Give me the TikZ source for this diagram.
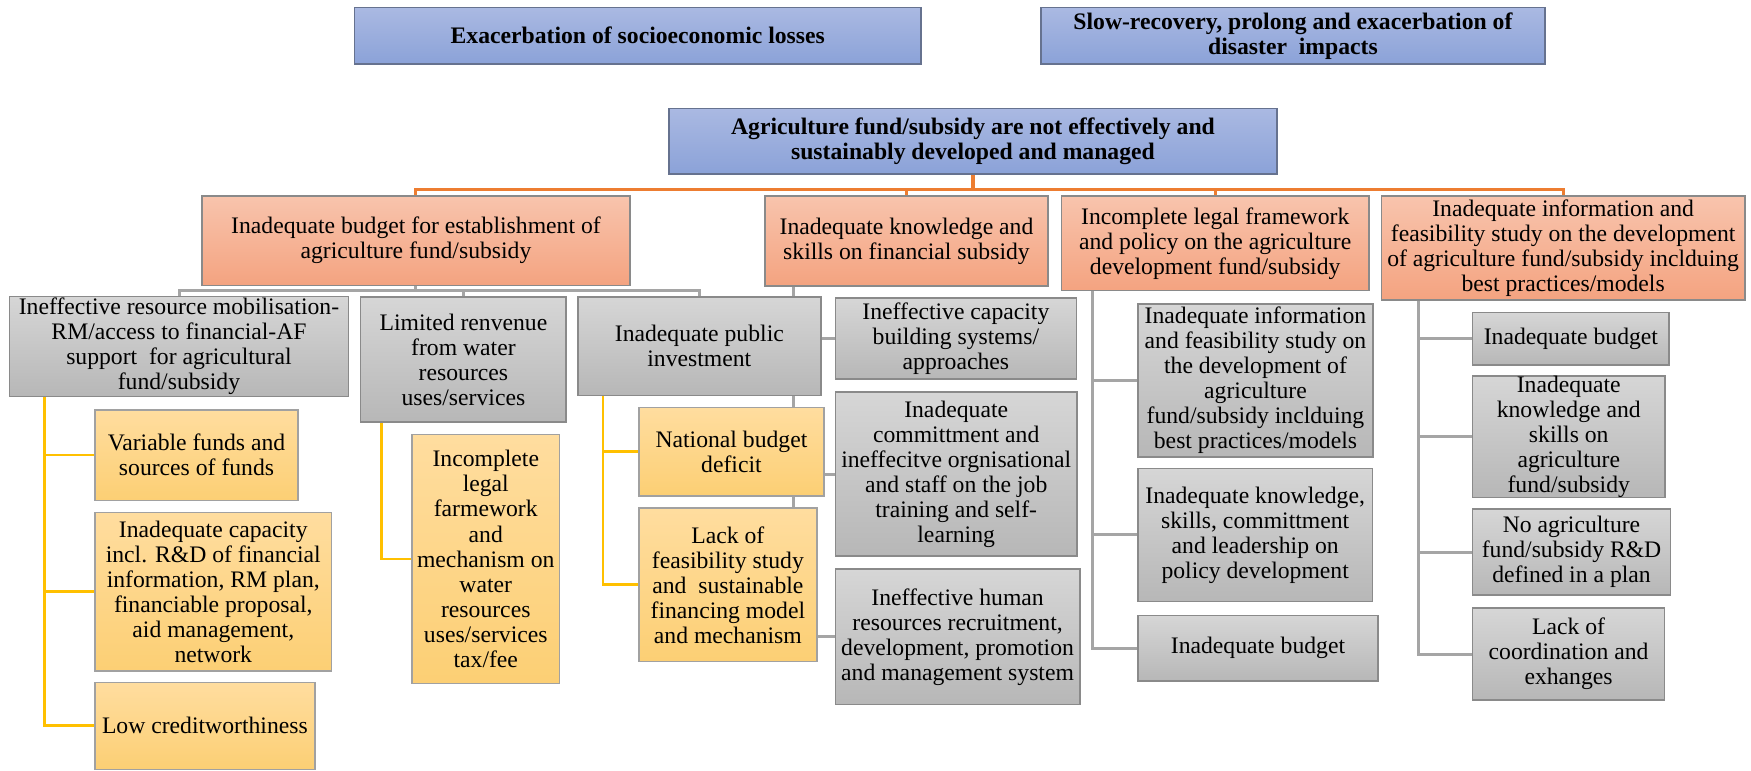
\documentclass[tikz,border=0pt]{standalone}
\usepackage{fontspec}
\setmainfont{Liberation Serif}
\usetikzlibrary{backgrounds}

\definecolor{blueTop}{HTML}{AAB9E2}
\definecolor{blueBot}{HTML}{8BA2D8}
\definecolor{blueLine}{HTML}{66728F}
\definecolor{orTop}{HTML}{F8C4AD}
\definecolor{orBot}{HTML}{F4A380}
\definecolor{grTop}{HTML}{D6D6D6}
\definecolor{grBot}{HTML}{B7B7B7}
\definecolor{yeTop}{HTML}{FFDD9F}
\definecolor{yeBot}{HTML}{FCCF74}
\definecolor{boxLine}{HTML}{8A8A8A}
\definecolor{orLink}{HTML}{ED7D31}
\definecolor{grLink}{HTML}{A5A5A5}
\definecolor{yeLink}{HTML}{FFC000}

\tikzset{
  x=1pt, y=-1pt,
  basebox/.style={rectangle, inner sep=0pt, align=center, line width=1.4pt,
    font=\fontsize{21.2}{22.4}\selectfont},
  bluebox/.style={basebox, draw=blueLine, top color=blueTop, bottom color=blueBot,
    font=\fontsize{21.2}{22.4}\selectfont\bfseries},
  orangebox/.style={basebox, draw=boxLine, top color=orTop, bottom color=orBot},
  greybox/.style={basebox, draw=boxLine, top color=grTop, bottom color=grBot},
  yellowbox/.style={basebox, draw=boxLine!80, top color=yeTop, bottom color=yeBot},
  orlink/.style={draw=orLink, line width=2.7pt},
  grlink/.style={draw=grLink, line width=2.7pt},
  yelink/.style={draw=yeLink, line width=2.5pt},
}

\begin{document}
\begin{tikzpicture}
\useasboundingbox (0,0) rectangle (1568,690);

% consequences
\node[bluebox, minimum width=507, minimum height=50.7] (t1) at (571.1,32)
  {Exacerbation of socioeconomic losses};
\node[bluebox, minimum width=451.6, minimum height=50.7] (t2) at (1157.8,32)
  {Slow-recovery, prolong and exacerbation of\\disaster\ \ impacts};

% core problem
\node[bluebox, minimum width=544.6, minimum height=58.8] (core) at (871.3,126.4)
  {Agriculture fund/subsidy are not effectively and\\sustainably developed and managed};

% main causes
\node[orangebox, minimum width=383, minimum height=80] (ca) at (372.5,215.5)
  {Inadequate budget for establishment of\\agriculture fund/subsidy};
\node[orangebox, minimum width=253.5, minimum height=80.5] (cb) at (811.75,215.75)
  {Inadequate knowledge and\\skills on financial subsidy};
\node[orangebox, minimum width=275.6, minimum height=84.8] (cc) at (1088.2,217.9)
  {Incomplete legal framework\\and policy on the agriculture\\development fund/subsidy};
\node[orangebox, minimum width=325.5, minimum height=93.3] (cd) at (1399.75,222.15)
  {Inadequate information and\\feasibility study on the development\\of agriculture fund/subsidy inclduing\\best practices/models};

% sub-causes of the budget problem
\node[greybox, minimum width=303.4, minimum height=89.3] (a1) at (160.3,310.35)
  {Ineffective resource mobilisation-\\RM/access to financial-AF\\support\ \ for agricultural\\fund/subsidy};
\node[greybox, minimum width=184, minimum height=112] (a2) at (415,322)
  {Limited renvenue\\from water\\resources\\uses/services};
\node[greybox, minimum width=217.5, minimum height=88] (a3) at (626.25,310)
  {Inadequate public\\investment};

\node[yellowbox, minimum width=182, minimum height=81] (a1a) at (176,407.5)
  {Variable funds and\\sources of funds};
\node[yellowbox, minimum width=212, minimum height=142] (a1b) at (191,530)
  {Inadequate capacity\\incl. R\&D of financial\\information, RM plan,\\financiable proposal,\\aid management,\\network};
\node[yellowbox, minimum width=197, minimum height=78] (a1c) at (183.5,650)
  {Low creditworthiness};
\node[yellowbox, minimum width=132, minimum height=223] (a2a) at (435,500.5)
  {Incomplete\\legal\\farmework\\and\\mechanism on\\water\\resources\\uses/services\\tax/fee};
\node[yellowbox, minimum width=166, minimum height=79] (a3a) at (655,404.5)
  {National budget\\deficit};
\node[yellowbox, minimum width=159.6, minimum height=137.5] (a3b) at (651.8,523.75)
  {Lack of\\feasibility study\\and\ \ sustainable\\financing model\\and mechanism};

% sub-causes of the knowledge problem
\node[greybox, minimum width=216, minimum height=72.5] (b1) at (856,303.25)
  {Ineffective capacity\\building systems/\\approaches};
\node[greybox, minimum width=216.5, minimum height=147] (b2) at (856.25,424.5)
  {Inadequate\\committment and\\ineffecitve orgnisational\\and staff on the job\\training and self-\\learning};
\node[greybox, minimum width=219, minimum height=121.3] (b3) at (857.5,570.35)
  {Ineffective human\\resources recruitment,\\development, promotion\\and management system};

% sub-causes of the legal problem
\node[greybox, minimum width=210.5, minimum height=137] (c1) at (1124.25,340.5)
  {Inadequate information\\and feasibility study on\\the development of\\agriculture\\fund/subsidy inclduing\\best practices/models};
\node[greybox, minimum width=210, minimum height=119.2] (c2) at (1124,479)
  {Inadequate knowledge,\\skills, committment\\and leadership on\\policy development};
\node[greybox, minimum width=215, minimum height=59] (c3) at (1126.5,580.5)
  {Inadequate budget};

% sub-causes of the information problem
\node[greybox, minimum width=176.2, minimum height=47.2] (d1) at (1406.7,303.4)
  {Inadequate budget};
\node[greybox, minimum width=172.4, minimum height=105.2] (d2) at (1404.8,390.9)
  {Inadequate\\knowledge and\\skills on\\agriculture\\fund/subsidy};
\node[greybox, minimum width=177.4, minimum height=76.7] (d3) at (1407.3,494.35)
  {No agriculture\\fund/subsidy R\&D\\defined in a plan};
\node[greybox, minimum width=172, minimum height=82.3] (d4) at (1404.6,585.65)
  {Lack of\\coordination and\\exhanges};

% bus and rail positions
\coordinate (obus) at (0,169.5);
\coordinate (gbus) at (0,260.3);
\coordinate (ya1) at (40,0);
\coordinate (ya2) at (341.7,0);
\coordinate (ya3) at (540,0);
\coordinate (gb) at (711,0);
\coordinate (gc) at (978,0);
\coordinate (gd) at (1270.6,0);

\begin{scope}[on background layer]
  % core problem to main causes
  \draw[orlink] (core.south) -- (core.south |- obus);
  \draw[orlink] (ca.north) -- (ca.north |- obus) -| (cd.north);
  \draw[orlink] (cb.north) -- (cb.north |- obus);
  \draw[orlink] (cc.north) -- (cc.north |- obus);

  % budget problem tree
  \draw[grlink] (ca.south) -- (ca.south |- gbus);
  \draw[grlink] (a1.north) -- (a1.north |- gbus) -| (a3.north);
  \draw[grlink] (a2.north) -- (a2.north |- gbus);

  \draw[yelink] (a1.south -| ya1) |- (a1c.west);
  \draw[yelink] (ya1 |- a1a.west) -- (a1a.west);
  \draw[yelink] (ya1 |- a1b.west) -- (a1b.west);
  \draw[yelink] (a2.south -| ya2) |- (a2a.west);
  \draw[yelink] (a3.south -| ya3) |- (a3b.west);
  \draw[yelink] (ya3 |- a3a.west) -- (a3a.west);

  % knowledge problem tree
  \draw[grlink] (cb.south -| gb) |- (b3.west);
  \draw[grlink] (gb |- b1.west) -- (b1.west);
  \draw[grlink] (gb |- b2.west) -- (b2.west);

  % legal problem tree
  \draw[grlink] (cc.south -| gc) |- (c3.west);
  \draw[grlink] (gc |- c1.west) -- (c1.west);
  \draw[grlink] (gc |- c2.west) -- (c2.west);

  % information problem tree
  \draw[grlink] (cd.south -| gd) |- (d4.west);
  \draw[grlink] (gd |- d1.west) -- (d1.west);
  \draw[grlink] (gd |- d2.west) -- (d2.west);
  \draw[grlink] (gd |- d3.west) -- (d3.west);
\end{scope}
\end{tikzpicture}
\end{document}
